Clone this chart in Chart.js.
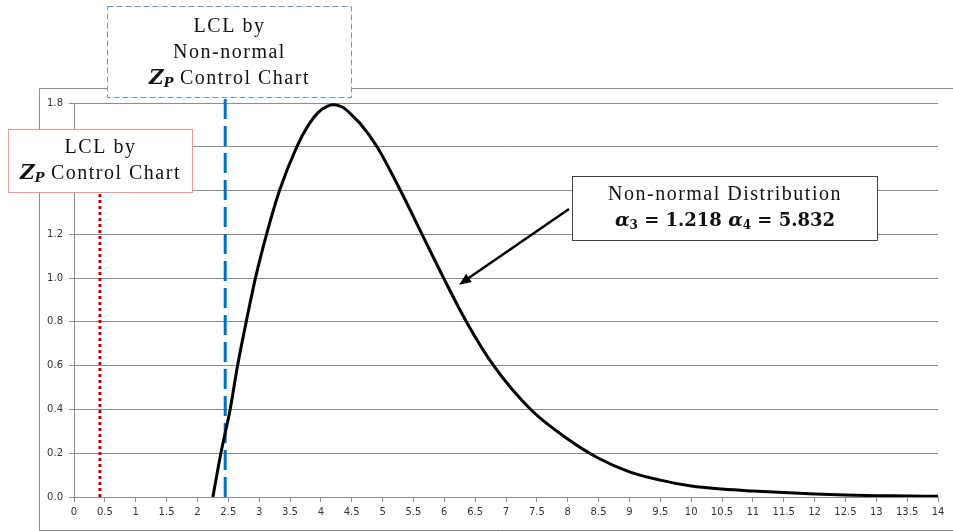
<!DOCTYPE html>
<html>
<head>
<meta charset="utf-8">
<script src="https://cdn.jsdelivr.net/npm/chart.js@4.4.1/dist/chart.umd.min.js"></script>
<style>
  html, body { margin: 0; padding: 0; background: #fff; }
  #wrap { width: 953px; height: 531px; }
</style>
</head>
<body>
<div id="wrap"><canvas id="chart" width="953" height="531"></canvas></div>
<script>
// ── density curve ──
const xValues = [2.25, 2.38, 2.53, 2.65, 2.79, 2.94, 3.12, 3.33, 3.61, 3.8, 3.95, 4.1, 4.2, 4.3, 4.4, 4.5, 4.64,
  4.91, 5.29, 5.64, 5.99, 6.36, 6.8, 7.4, 8.0, 8.5, 9.0, 9.5, 10, 10.5, 11, 11.5, 12, 12.5, 13, 13.5, 14];
const densityValues = [0, 0.2, 0.4, 0.6, 0.8, 1.0, 1.2, 1.4, 1.6, 1.7, 1.755, 1.785, 1.792, 1.787, 1.772, 1.745, 1.705,
  1.6, 1.4, 1.2, 1.0, 0.8, 0.6, 0.4, 0.265, 0.177, 0.115, 0.077, 0.05, 0.036, 0.027, 0.02, 0.014, 0.009, 0.006, 0.005, 0.003];

// control limits
const lclNormal    = 0.42;  // Z_P chart
const lclNonNormal = 2.45;  // non-normal Z_P chart
const lclNormalTop    = 1.4;
const lclNonNormalTop = 1.85;

// axes
const xMin = 0, xMax = 14, xStep = 0.5;
const yMin = 0, yMax = 1.8, yStep = 0.2;

// arrow target on the curve
const arrowTip = { x: 6.24, y: 0.97 };

const GRID = '#8c8c8c';
const SERIF = '"Liberation Serif", "DejaVu Serif", serif';
const MATH = '"DejaVu Serif", serif';

const curve = xValues.map((x, i) => ({ x, y: densityValues[i] }));

// draw a line of mixed runs centred on cx
function drawRuns(ctx, runs, cx, cy) {
  let total = 0;
  runs.forEach(r => { ctx.font = r.font; ctx.letterSpacing = r.ls || '0px'; r.w = ctx.measureText(r.text).width; total += r.w; });
  let x = cx - total / 2;
  runs.forEach(r => {
    ctx.font = r.font;
    ctx.letterSpacing = r.ls || '0px';
    ctx.fillStyle = r.color || '#111';
    ctx.textAlign = 'left';
    ctx.textBaseline = 'middle';
    ctx.fillText(r.text, x, cy + (r.dy || 0));
    x += r.w;
  });
  ctx.letterSpacing = '0px';
}

function box(ctx, x, y, w, h, color, dash) {
  ctx.save();
  ctx.fillStyle = '#fff';
  ctx.fillRect(x, y, w, h);
  ctx.strokeStyle = color;
  ctx.lineWidth = 1;
  ctx.setLineDash(dash);
  ctx.strokeRect(x + 0.5, y + 0.5, w - 1, h - 1);
  ctx.restore();
}

const txt = (s) => ({ text: s, font: '20px ' + SERIF, ls: '1.5px' });
const zp = [
  { text: 'Z', font: 'italic bold 20px ' + MATH },
  { text: 'P', font: 'italic bold 13px ' + MATH, dy: 5 },
  txt(' Control Chart')
];

const decorPlugin = {
  id: 'decor',
  beforeDraw(chart) {
    const ctx = chart.ctx;
    ctx.save();
    ctx.fillStyle = '#fff';
    ctx.fillRect(0, 0, chart.width, chart.height);
    ctx.strokeStyle = GRID;
    ctx.lineWidth = 1;
    ctx.beginPath();
    ctx.moveTo(chart.width, 88.5);
    ctx.lineTo(39.5, 88.5);
    ctx.lineTo(39.5, 530.5);
    ctx.lineTo(chart.width, 530.5);
    ctx.stroke();
    ctx.restore();
  },
  afterDraw(chart) {
    const ctx = chart.ctx;
    const sx = chart.scales.x, sy = chart.scales.y;

    // arrow to the curve
    const tx = sx.getPixelForValue(arrowTip.x), ty = sy.getPixelForValue(arrowTip.y);
    const fx = 569, fy = 209;
    const ang = Math.atan2(ty - fy, tx - fx);
    ctx.save();
    ctx.strokeStyle = '#000';
    ctx.fillStyle = '#000';
    ctx.lineWidth = 2.5;
    ctx.beginPath();
    ctx.moveTo(fx, fy);
    ctx.lineTo(tx - 9 * Math.cos(ang), ty - 9 * Math.sin(ang));
    ctx.stroke();
    ctx.beginPath();
    ctx.moveTo(tx, ty);
    ctx.lineTo(tx - 12 * Math.cos(ang) + 5 * Math.sin(ang), ty - 12 * Math.sin(ang) - 5 * Math.cos(ang));
    ctx.lineTo(tx - 12 * Math.cos(ang) - 5 * Math.sin(ang), ty - 12 * Math.sin(ang) + 5 * Math.cos(ang));
    ctx.closePath();
    ctx.fill();
    ctx.restore();

    // non-normal LCL label
    box(ctx, 107, 6, 245, 92, '#5b9bd5', [6, 3]);
    drawRuns(ctx, [txt('LCL by')], 229.5, 27);
    drawRuns(ctx, [txt('Non-normal')], 229.5, 53);
    drawRuns(ctx, zp, 229.5, 79);

    // normal LCL label
    box(ctx, 8, 129, 185, 64, '#c0392b', [1, 1]);
    drawRuns(ctx, [txt('LCL by')], 100.5, 148);
    drawRuns(ctx, zp, 100.5, 174);

    // distribution label
    box(ctx, 572, 176, 306, 65, '#404040', []);
    drawRuns(ctx, [txt('Non-normal Distribution')], 725, 195);
    drawRuns(ctx, [
      { text: 'α', font: 'italic bold 19px ' + MATH },
      { text: '3', font: 'bold 12px ' + MATH, dy: 5 },
      { text: ' = 1.218 ', font: 'bold 18px ' + MATH },
      { text: 'α', font: 'italic bold 19px ' + MATH },
      { text: '4', font: 'bold 12px ' + MATH, dy: 5 },
      { text: ' = 5.832', font: 'bold 18px ' + MATH }
    ], 725, 221);
  }
};

new Chart(document.getElementById('chart'), {
  type: 'line',
  data: {
    datasets: [
      { label: 'Non-normal Distribution', data: curve, borderColor: '#000', borderWidth: 3,
        pointRadius: 0, cubicInterpolationMode: 'monotone', fill: false, order: 0 },
      { label: 'LCL non-normal', data: [{ x: lclNonNormal, y: 0 }, { x: lclNonNormal, y: lclNonNormalTop }],
        borderColor: '#0070c0', borderWidth: 3, borderDash: [20, 7], pointRadius: 0, clip: false, order: 1 },
      { label: 'LCL normal', data: [{ x: lclNormal, y: 0 }, { x: lclNormal, y: lclNormalTop }],
        borderColor: '#d00000', borderWidth: 3, borderDash: [3, 3], pointRadius: 0, clip: false, order: 2 }
    ]
  },
  options: {
    responsive: false,
    animation: false,
    layout: { padding: { left: 39, top: 103, right: 15, bottom: 9 } },
    plugins: { legend: { display: false }, tooltip: { enabled: false } },
    scales: {
      x: {
        type: 'linear', min: xMin, max: xMax,
        afterFit: s => { s.height = 25; },
        ticks: { stepSize: xStep, autoSkip: false, maxRotation: 0, padding: 4,
          callback: v => String(Math.round(v * 10) / 10),
          color: '#333', font: { family: '"DejaVu Sans", Verdana, sans-serif', size: 10 } },
        grid: { drawOnChartArea: false, drawTicks: true, tickLength: 5, color: GRID },
        border: { color: GRID }
      },
      y: {
        min: yMin, max: yMax,
        afterFit: s => { s.width = 35; },
        ticks: { stepSize: yStep, padding: 6, callback: v => Number(v).toFixed(1),
          color: '#333', font: { family: '"DejaVu Sans", Verdana, sans-serif', size: 10 } },
        grid: { color: GRID, tickLength: 5 },
        border: { color: GRID }
      }
    }
  },
  plugins: [decorPlugin]
});
</script>
</body>
</html>
